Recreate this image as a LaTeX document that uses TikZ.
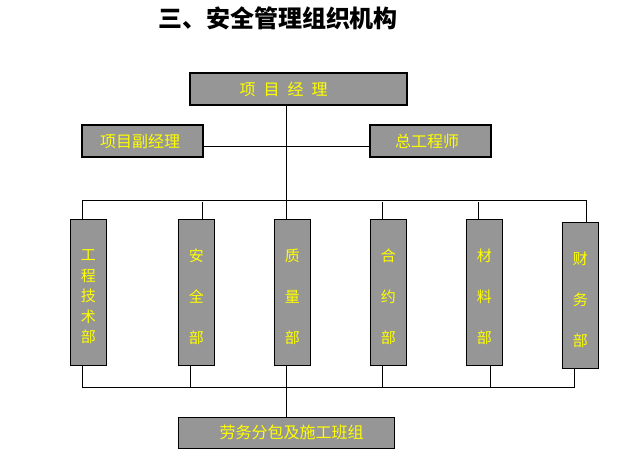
\documentclass[tikz,border=0pt]{standalone}
\usepackage{fontspec}
\newfontfamily\cjk{Noto Sans CJK SC}
\usetikzlibrary{calc,backgrounds}
\definecolor{boxgray}{RGB}{150,150,150}
\definecolor{txtyellow}{RGB}{255,255,0}
\begin{document}
\begin{tikzpicture}[x=1pt,y=-1pt,
  orgbox/.style={draw=black,line width=1.2pt,fill=boxgray,inner sep=0pt,text=txtyellow,font=\cjk\fontsize{16}{18}\selectfont},
  wide/.style={orgbox,minimum width=#1,minimum height=32pt},
  tall/.style={orgbox,minimum width=36pt,minimum height=146pt},
  vlab/.style={text=txtyellow,align=center,font=\cjk\fontsize{15}{#1}\selectfont},
  hlab/.style={text=txtyellow,inner sep=0pt,font=\cjk\fontsize{16}{18}\selectfont},
  conn/.style={line width=1pt,draw=black}]
\useasboundingbox (0,0) rectangle (622,474);
\node[font=\cjk\bfseries\fontsize{24}{28}\selectfont] (title) at (278,18) {三、安全管理组织机构};
% boxes
\node[wide=217pt] (pm) at (298.5,89) {};
\node[hlab] (pmt) at (283.5,89) {项\hspace{8pt}目\hspace{8pt}经\hspace{8pt}理};
\node[wide=121pt] (dpm) at (142.5,141) {};
\node[hlab] (dpmt) at (140,141) {项目副经理};
\node[wide=121pt] (ce) at (430.5,141) {};
\node[hlab] (cet) at (427,141) {总工程师};
\node[tall] (d1) at (88.3,292.3) {};
\node[tall] (d2) at (196.3,292.3) {};
\node[tall] (d3) at (292.3,292.3) {};
\node[tall] (d4) at (388.3,292.3) {};
\node[tall] (d5) at (484.3,292.3) {};
\node[tall] (d6) at (580.3,295.3) {};
\node[vlab=20.6] (t1) at ($(d1.center)+(0,4.5)$) {工\\程\\技\\术\\部};
\node[vlab=41.2] (t2) at ($(d2.center)+(0,4.5)$) {安\\全\\部};
\node[vlab=41.2] (t3) at ($(d3.center)+(0,4.5)$) {质\\量\\部};
\node[vlab=41.2] (t4) at ($(d4.center)+(0,4.5)$) {合\\约\\部};
\node[vlab=41.2] (t5) at ($(d5.center)+(0,4.5)$) {材\\料\\部};
\node[vlab=41.2] (t6) at ($(d6.center)+(0,4.5)$) {财\\务\\部};
\node[orgbox,minimum width=216pt,minimum height=31pt] (lab) at (286.5,432.8) {};
\node[hlab] (labt) at (291.7,432) {劳务分包及施工班组};
% helper coordinates
\coordinate (hb) at (287,146);
\coordinate (tl) at (82.3,200);
\coordinate (tr) at (586.3,200);
\coordinate (bl) at (82.3,387);
\coordinate (br) at (574.3,387);
\begin{scope}[on background layer]
% trunk
\draw[conn] (pm.south -| lab.north) -- (lab.north);
\draw[conn] (dpm.east |- hb) -- (ce.west |- hb);
% top bus
\draw[conn] (d1.north -| tl) -- (tl) -- (tr) -- (d6.north -| tr);
\draw[conn] ($(d2.north)+(6,0)$) -- ++(0,-17);
\draw[conn] ($(d4.north)+(-6,0)$) -- ++(0,-17);
\draw[conn] ($(d5.north)+(-6,0)$) -- ++(0,-17);
% bottom bus
\draw[conn] (d1.south -| bl) -- (bl) -- (br) -- (d6.south -| br);
\draw[conn] ($(d2.south)+(-6,0)$) |- (bl);
\draw[conn] ($(d4.south)+(-6,0)$) |- (bl);
\draw[conn] ($(d5.south)+(6,0)$) |- (bl);
\end{scope}
\end{tikzpicture}
\end{document}
